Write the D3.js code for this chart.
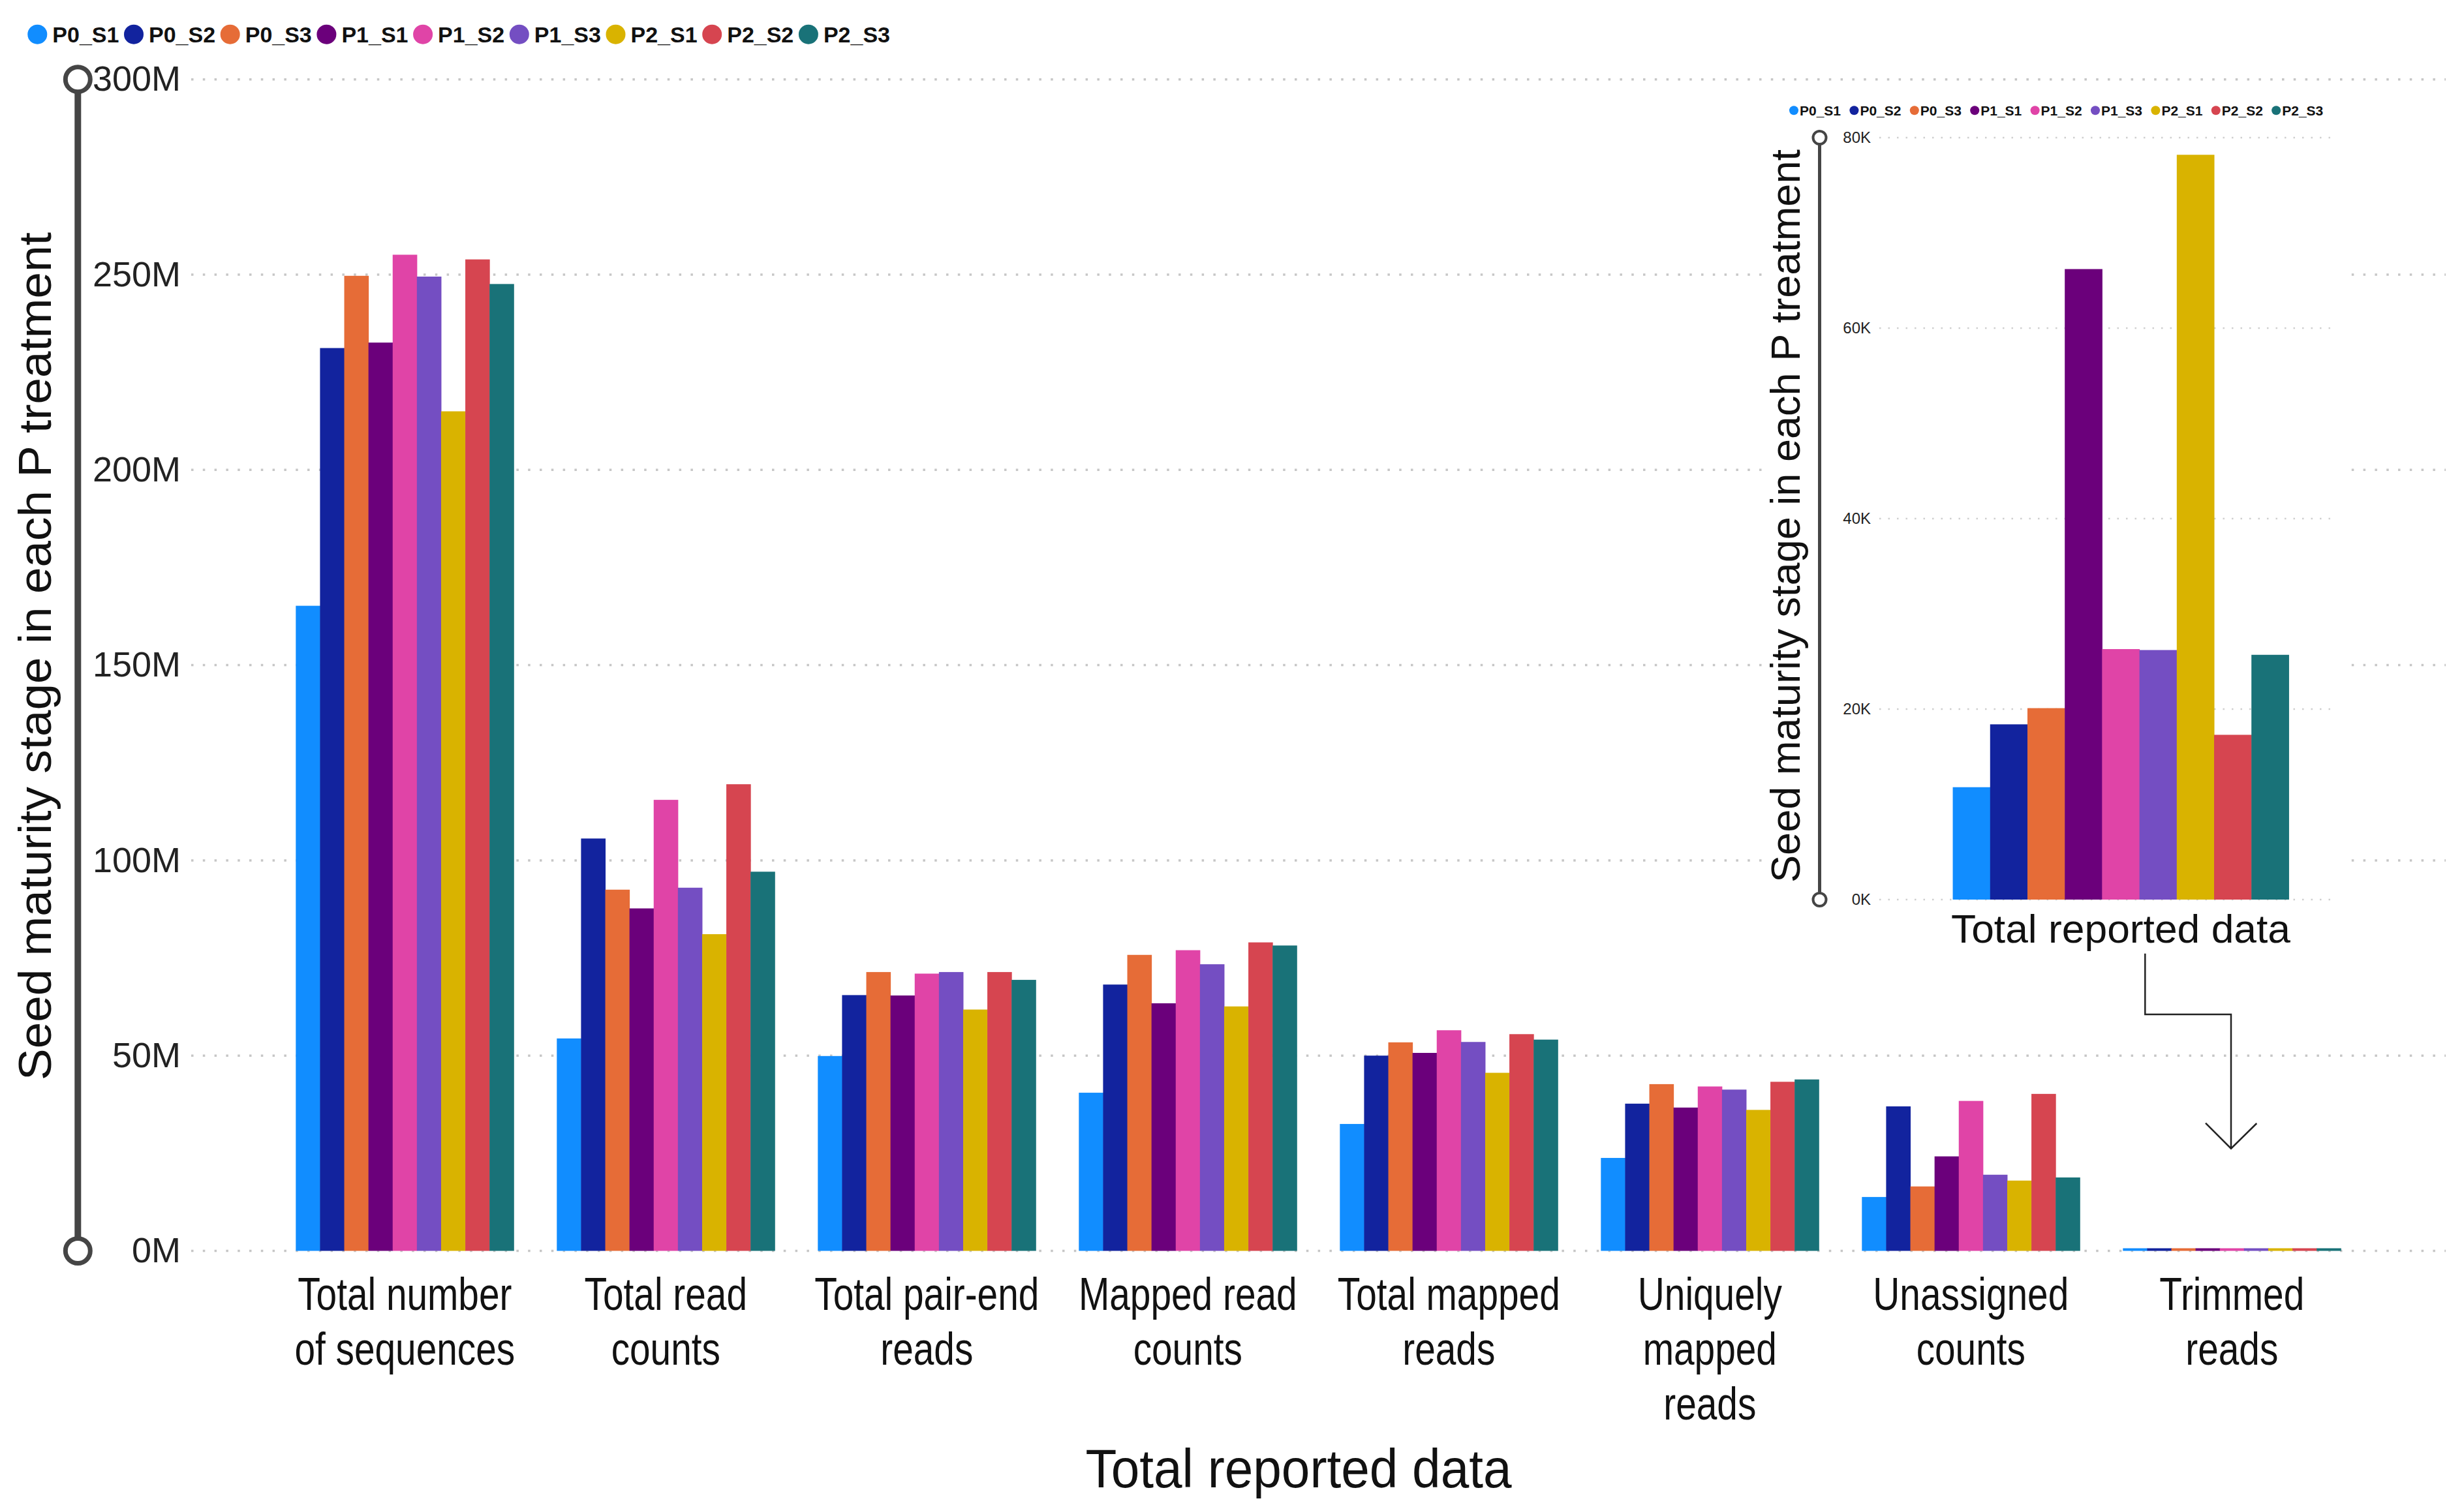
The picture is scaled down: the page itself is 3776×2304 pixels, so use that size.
<!DOCTYPE html>
<html>
<head>
<meta charset="utf-8">
<script src="https://cdn.jsdelivr.net/npm/d3@7/dist/d3.min.js"></script>
<style>
  html, body { margin: 0; padding: 0; background: #ffffff; }
  svg { display: block; font-family: "Liberation Sans", Arial, sans-serif; }
</style>
</head>
<body>
<svg id="chart" width="3776" height="2304"></svg>
<script>
// ---------------- DATA ----------------
const series = ["P0_S1", "P0_S2", "P0_S3", "P1_S1", "P1_S2", "P1_S3", "P2_S1", "P2_S2", "P2_S3"];
const seriesColors = ["#118DFF", "#12239E", "#E66C37", "#6B007B", "#E044A7", "#744EC2", "#D9B300", "#D64550", "#197278"];

const categories = [
  "Total number of sequences", "Total read counts", "Total pair-end reads", "Mapped read counts",
  "Total mapped reads", "Uniquely mapped reads", "Unassigned counts", "Trimmed reads"
];
const categoryLines = [
  ["Total number", "of sequences"], ["Total read", "counts"], ["Total pair-end", "reads"],
  ["Mapped read", "counts"], ["Total mapped", "reads"], ["Uniquely", "mapped", "reads"],
  ["Unassigned", "counts"], ["Trimmed", "reads"]
];

// values in millions, one value per series (P0_S1 ... P2_S3)
const totalNumberOfSequences = [165.2, 231.2, 249.7, 232.6, 255.1, 249.5, 215.0, 253.9, 247.6];
const totalReadCounts        = [54.4, 105.6, 92.5, 87.7, 115.5, 93.0, 81.1, 119.5, 97.1];
const totalPairEndReads      = [49.9, 65.5, 71.4, 65.4, 71.0, 71.4, 61.8, 71.4, 69.4];
const mappedReadCounts       = [40.5, 68.2, 75.8, 63.4, 77.0, 73.4, 62.6, 79.0, 78.2];
const totalMappedReads       = [32.5, 50.0, 53.4, 50.7, 56.5, 53.5, 45.6, 55.5, 54.1];
const uniquelyMappedReads    = [23.8, 37.7, 42.7, 36.7, 42.1, 41.3, 36.1, 43.3, 43.9];
const unassignedCounts       = [13.8, 37.0, 16.5, 24.2, 38.4, 19.5, 18.0, 40.2, 18.8];
// trimmed reads, raw counts (shown in the inset in K)
const trimmedReads           = [11800, 18400, 20100, 66200, 26300, 26200, 78200, 17300, 25700];

const mainTicks = [0, 50, 100, 150, 200, 250, 300];
const insetTicks = [0, 20000, 40000, 60000, 80000];
const insetCategory = ["Total reported data"];
const yTitle = "Seed maturity stage in each P treatment";
const xTitle = "Total reported data";

const valuesByCategory = [
  totalNumberOfSequences, totalReadCounts, totalPairEndReads, mappedReadCounts,
  totalMappedReads, uniquelyMappedReads, unassignedCounts, trimmedReads.map(v => v / 1e6)
];

// ---------------- DRAW ----------------
const svg = d3.select("#chart");
const FONT = '"Liberation Sans", Arial, sans-serif';

// main scales
const x0 = d3.scaleBand().domain(categories).range([420.3, 3620.3]).paddingInner(0.165).paddingOuter(0.0825);
const x1 = d3.scaleBand().domain(series).range([0, x0.bandwidth()]).padding(0);
const y = d3.scaleLinear().domain([0, 300]).range([1917.5, 121.7]);
const color = d3.scaleOrdinal().domain(series).range(seriesColors);

// gridlines
svg.append("g").selectAll("line").data(mainTicks).join("line")
  .attr("x1", 293).attr("x2", 3748)
  .attr("y1", d => y(d)).attr("y2", d => y(d))
  .attr("stroke", "#c6c6c6").attr("stroke-width", 3.5)
  .attr("stroke-dasharray", "3.5,14.3");

// y axis labels
const yAxis = d3.axisLeft(y).tickValues(mainTicks).tickSize(0).tickPadding(0).tickFormat(d => d + "M");
const gy = svg.append("g").attr("transform", "translate(277,0)").call(yAxis);
gy.select(".domain").remove();
gy.selectAll("text").attr("font-family", FONT).attr("font-size", 54).attr("fill", "#222");

// axis line with hollow end circles
svg.append("line").attr("x1", 119.3).attr("x2", 119.3).attr("y1", y(300)).attr("y2", y(0))
  .attr("stroke", "#454545").attr("stroke-width", 10);
svg.append("g").selectAll("circle").data([300, 0]).join("circle")
  .attr("cx", 119.3).attr("cy", d => y(d)).attr("r", 19)
  .attr("fill", "#fff").attr("stroke", "#454545").attr("stroke-width", 7);

// bars
const rows = categories.map((c, i) => ({ cat: c, vals: series.map((s, j) => ({ s, v: valuesByCategory[i][j] })) }));
const groups = svg.append("g").selectAll("g").data(rows).join("g")
  .attr("transform", d => `translate(${x0(d.cat)},0)`);
groups.selectAll("rect").data(d => d.vals).join("rect")
  .attr("x", d => x1(d.s)).attr("width", x1.bandwidth() + 0.5)
  .attr("y", d => Math.min(y(d.v), y(0) - 4))
  .attr("height", d => Math.max(y(0) - y(d.v), 4))
  .attr("fill", d => color(d.s));

// category labels
const catG = svg.append("g").selectAll("g").data(categories).join("g")
  .attr("transform", d => `translate(${x0(d) + x0.bandwidth() / 2},2008) scale(0.8,1)`);
catG.each(function (d, i) {
  d3.select(this).selectAll("text").data(categoryLines[i]).join("text")
    .attr("x", 0).attr("y", (t, k) => k * 84)
    .attr("text-anchor", "middle").attr("font-family", FONT).attr("font-size", 71).attr("fill", "#111")
    .text(t => t);
});

// axis titles
svg.append("text").attr("transform", "translate(78,1006) rotate(-90)")
  .attr("text-anchor", "middle").attr("font-family", FONT).attr("font-size", 70).attr("fill", "#111")
  .attr("textLength", 1300).attr("lengthAdjust", "spacingAndGlyphs").text(yTitle);
svg.append("text").attr("x", 1990).attr("y", 2280)
  .attr("text-anchor", "middle").attr("font-family", FONT).attr("font-size", 84).attr("fill", "#111")
  .attr("textLength", 653).attr("lengthAdjust", "spacingAndGlyphs").text(xTitle);

// legend
const leg = svg.append("g").selectAll("g").data(series).join("g")
  .attr("transform", (d, i) => `translate(${57.3 + i * 147.7},52.7)`);
leg.append("circle").attr("r", 15).attr("fill", d => color(d));
leg.append("text").attr("x", 23).attr("y", 12).attr("font-family", FONT).attr("font-weight", "bold")
  .attr("font-size", 34).attr("fill", "#111").text(d => d);

// ---------------- INSET ----------------
svg.append("rect").attr("x", 2702).attr("y", 140).attr("width", 890).attr("height", 1335).attr("fill", "#fff");

const iy = d3.scaleLinear().domain([0, 80000]).range([1379, 211]);
const ix0 = d3.scaleBand().domain(insetCategory).range([2936.7, 3563.3]).paddingInner(0).paddingOuter(0.1085);
const ix1 = d3.scaleBand().domain(series).range([0, ix0.bandwidth()]).padding(0);

svg.append("g").selectAll("line").data(insetTicks).join("line")
  .attr("x1", 2880).attr("x2", 3576)
  .attr("y1", d => iy(d)).attr("y2", d => iy(d))
  .attr("stroke", "#cfcfcf").attr("stroke-width", 2.5)
  .attr("stroke-dasharray", "2.5,11");

const iAxis = d3.axisLeft(iy).tickValues(insetTicks).tickSize(0).tickPadding(0).tickFormat(d => (d / 1000) + "K");
const giy = svg.append("g").attr("transform", "translate(2867,0)").call(iAxis);
giy.select(".domain").remove();
giy.selectAll("text").attr("font-family", FONT).attr("font-size", 24).attr("fill", "#222");

svg.append("line").attr("x1", 2788.5).attr("x2", 2788.5).attr("y1", iy(80000)).attr("y2", iy(0))
  .attr("stroke", "#454545").attr("stroke-width", 5);
svg.append("g").selectAll("circle").data([80000, 0]).join("circle")
  .attr("cx", 2788.5).attr("cy", d => iy(d)).attr("r", 10)
  .attr("fill", "#fff").attr("stroke", "#454545").attr("stroke-width", 4);

svg.append("g").attr("transform", `translate(${ix0(insetCategory[0])},0)`)
  .selectAll("rect").data(series.map((s, j) => ({ s, v: trimmedReads[j] }))).join("rect")
  .attr("x", d => ix1(d.s)).attr("width", ix1.bandwidth() + 0.5)
  .attr("y", d => iy(d.v)).attr("height", d => iy(0) - iy(d.v))
  .attr("fill", d => color(d.s));

svg.append("text").attr("x", ix0(insetCategory[0]) + ix0.bandwidth() / 2).attr("y", 1445)
  .attr("text-anchor", "middle").attr("font-family", FONT).attr("font-size", 62).attr("fill", "#111")
  .attr("textLength", 520).attr("lengthAdjust", "spacingAndGlyphs").text(insetCategory[0]);

svg.append("text").attr("transform", "translate(2758,791) rotate(-90)")
  .attr("text-anchor", "middle").attr("font-family", FONT).attr("font-size", 63).attr("fill", "#111")
  .attr("textLength", 1124).attr("lengthAdjust", "spacingAndGlyphs").text(yTitle);

const ileg = svg.append("g").selectAll("g").data(series).join("g")
  .attr("transform", (d, i) => `translate(${2749 + i * 92.4},169.3)`);
ileg.append("circle").attr("r", 7).attr("fill", d => color(d));
ileg.append("text").attr("x", 9).attr("y", 8).attr("font-family", FONT).attr("font-weight", "bold")
  .attr("font-size", 21).attr("fill", "#111").text(d => d);

// arrow from inset to trimmed reads
svg.append("path")
  .attr("d", "M3287.3,1461.7 V1555 H3419 V1760.7 M3380,1721.7 L3419,1760.7 L3458.3,1722")
  .attr("fill", "none").attr("stroke", "#222").attr("stroke-width", 2.5);
</script>
</body>
</html>
